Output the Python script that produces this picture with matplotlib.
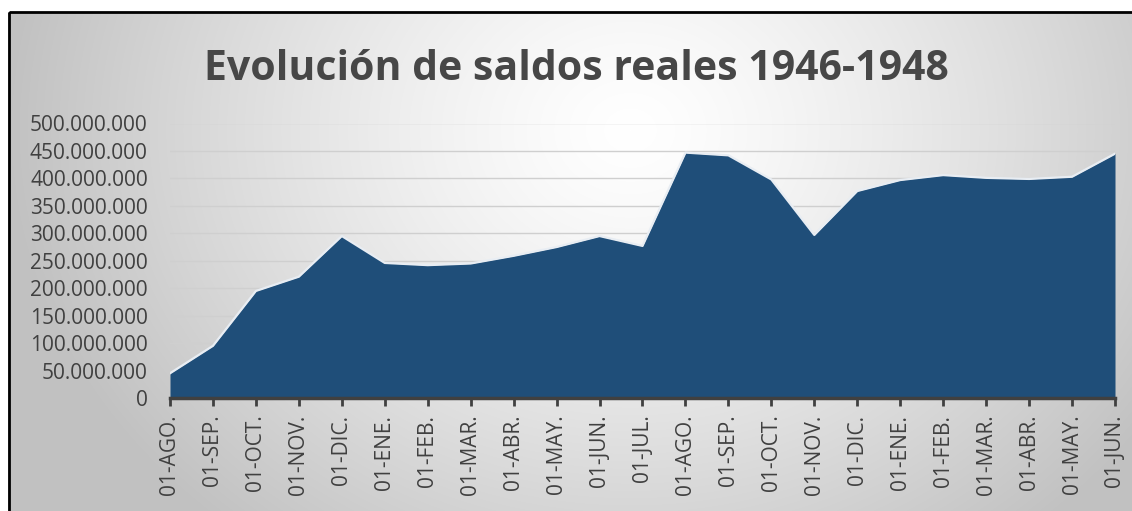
import numpy as np
import matplotlib
matplotlib.use("Agg")
import matplotlib.pyplot as plt
from matplotlib.ticker import FuncFormatter, MultipleLocator
from matplotlib.patches import Rectangle

# ---- data ----
labels = ["01-AGO.", "01-SEP.", "01-OCT.", "01-NOV.", "01-DIC.", "01-ENE.",
          "01-FEB.", "01-MAR.", "01-ABR.", "01-MAY.", "01-JUN.", "01-JUL.",
          "01-AGO.", "01-SEP.", "01-OCT.", "01-NOV.", "01-DIC.", "01-ENE.",
          "01-FEB.", "01-MAR.", "01-ABR.", "01-MAY.", "01-JUN."]
values = [45e6, 95e6, 195e6, 221e6, 295e6, 246e6,
          242e6, 245e6, 259e6, 275e6, 295e6, 277e6,
          447e6, 442e6, 398e6, 297e6, 377e6, 397e6,
          406e6, 401e6, 399e6, 403e6, 445e6]
title = "Evolución de saldos reales 1946-1948"

W, H = 1132, 511
fig = plt.figure(figsize=(W / 100, H / 100), dpi=100)
fig.patch.set_facecolor("white")

# background gradient (radial, white centre -> grey edges)
bg = fig.add_axes([0, 0, 1, 1], zorder=0)
bg.set_axis_off()
yy, xx = np.mgrid[0:H, 0:W]
cx, cy = 630, 130
d = np.sqrt(((xx - cx) / 620.0) ** 2 + ((yy - cy) / 520.0) ** 2)
g = 1.0 - 0.24 * np.clip(d, 0, 1.0) ** 1.3
img = np.dstack([g, g, g])
img[:12, :, :] = 1.0
img[:, :8, :] = 1.0
bg.imshow(img, extent=[0, W, H, 0], aspect="auto", interpolation="bilinear")
bg.set_xlim(0, W)
bg.set_ylim(H, 0)
bg.add_patch(Rectangle((8.5, 12.5), W + 10, H + 10, fill=False,
                       edgecolor="black", linewidth=2.0))

# title
fig.text(576 / W, 1 - 70 / H, title, ha="center", va="center",
         fontsize=29.5, fontweight="bold", color="#474747", family="Open Sans")

# main axes
left, right = 170 / W, 1115 / W
bottom, top = 1 - 398 / H, 1 - 123.5 / H
ax = fig.add_axes([left, bottom, right - left, top - bottom], zorder=2)
ax.patch.set_alpha(0)

x = np.arange(len(values))
ax.fill_between(x, 0, values, color="#1F4E79", zorder=3, linewidth=0)
ax.plot(x, values, color="#e8edf3", linewidth=1.6, zorder=4,
        solid_joinstyle="round")

ax.set_xlim(0, len(values) - 1)
ax.set_ylim(0, 500e6)
ax.yaxis.set_major_locator(MultipleLocator(50e6))
ax.yaxis.set_major_formatter(FuncFormatter(
    lambda v, p: "0" if v == 0 else f"{int(v):,}".replace(",", ".")))
ax.grid(axis="y", color="#cfcfcf", linewidth=1.0, zorder=1)
ax.set_axisbelow(True)

ax.set_xticks(x)
ax.set_xticklabels(labels, rotation=90, family="Open Sans", fontsize=15,
                   color="#404040")
for t in ax.get_yticklabels():
    t.set_family("Open Sans")
    t.set_fontsize(15)
    t.set_color("#404040")

for s in ["top", "right", "left"]:
    ax.spines[s].set_visible(False)
ax.spines["bottom"].set_color("#404040")
ax.spines["bottom"].set_linewidth(2.5)
ax.spines["bottom"].set_zorder(5)
ax.tick_params(axis="y", length=0, pad=16)
ax.tick_params(axis="x", length=6, width=2, color="#404040", pad=6)

fig.savefig("out.png", dpi=100)
